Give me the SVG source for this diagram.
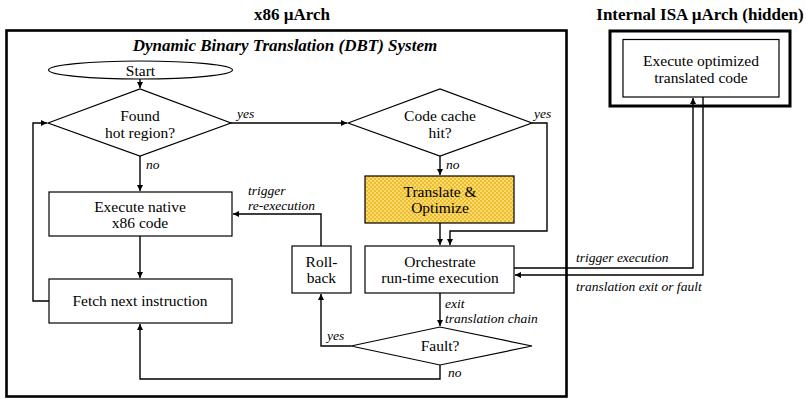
<svg xmlns="http://www.w3.org/2000/svg" width="808" height="399" viewBox="0 0 808 399">
<style>
.t{font-family:"Liberation Serif","Times New Roman",serif;font-size:15.5px;fill:#000;text-anchor:middle}
.l{font-family:"Liberation Serif","Times New Roman",serif;font-size:13.5px;font-style:italic;fill:#000}
.h{font-family:"Liberation Serif","Times New Roman",serif;font-size:17px;font-weight:bold;fill:#000;text-anchor:middle}
.n{fill:#fff;stroke:#000;stroke-width:1.2}
.c{fill:none;stroke:#000;stroke-width:1.4}
</style>
<defs>
<marker id="a" markerWidth="8" markerHeight="8" refX="6" refY="3" orient="auto" markerUnits="userSpaceOnUse"><path d="M0,0 L6,3 L0,6 Z" fill="#000"/></marker>
<pattern id="chk" width="4" height="4" patternUnits="userSpaceOnUse"><rect width="4" height="4" fill="#F7DA70"/><rect width="2" height="2" fill="#EFBC2C"/><rect x="2" y="2" width="2" height="2" fill="#EFBC2C"/></pattern>
</defs>
<text class="h" x="292" y="20">x86 µArch</text>
<text class="h" x="700" y="20">Internal ISA µArch (hidden)</text>
<g id="dbt-system">
<rect x="6.5" y="30.5" width="560" height="366" fill="#fff" stroke="#000" stroke-width="2.6"/>
<text class="h" x="285" y="51" font-style="italic" font-size="15.5">Dynamic Binary Translation (DBT) System</text>
</g>
<g id="internal-isa">
<rect x="610" y="31" width="180" height="75" fill="#fff" stroke="#000" stroke-width="3"/>
</g>
<g id="connectors">
<path class="c" d="M140,79 V88" marker-end="url(#a)"/>
<path class="c" d="M231,123 H347" marker-end="url(#a)"/>
<path class="c" d="M140,156 V191" marker-end="url(#a)"/>
<path class="c" d="M440,156 V175" marker-end="url(#a)"/>
<path class="c" d="M532,123 H547 V231 H450 V245" marker-end="url(#a)"/>
<path class="c" d="M440,223 V245" marker-end="url(#a)"/>
<path class="c" d="M140,236 V278" marker-end="url(#a)"/>
<path class="c" d="M49,301 H33 V123 H47" marker-end="url(#a)"/>
<path class="c" d="M321,246 V214 H233" marker-end="url(#a)"/>
<path class="c" d="M440,293 V326" marker-end="url(#a)"/>
<path class="c" d="M351,346 H321 V294" marker-end="url(#a)"/>
<path class="c" d="M440,365 V379 H140 V324" marker-end="url(#a)"/>
<path class="c" d="M514,268 H693 V98" marker-end="url(#a)"/>
<path class="c" d="M703,97 V275 H515" marker-end="url(#a)"/>
<text class="l" x="237" y="118">yes</text>
<text class="l" x="146" y="169">no</text>
<text class="l" x="534" y="118">yes</text>
<text class="l" x="446" y="169">no</text>
<text class="l" x="248" y="195">trigger</text>
<text class="l" x="248" y="210">re-execution</text>
<text class="l" x="445" y="308">exit</text>
<text class="l" x="445" y="323">translation chain</text>
<text class="l" x="327" y="340">yes</text>
<text class="l" x="448" y="377">no</text>
<text class="l" x="576" y="262">trigger execution</text>
<text class="l" x="576" y="291">translation exit or fault</text>
</g>
<g id="start">
<ellipse class="n" cx="140.5" cy="70" rx="92" ry="9"/>
<text class="t" x="140.5" y="75.5">Start</text>
</g>
<g id="found-hot-region">
<polygon class="n" points="48,123 140,89 231,123 140,156"/>
<text class="t" x="140" y="121">Found</text>
<text class="t" x="140" y="138">hot region?</text>
</g>
<g id="code-cache-hit">
<polygon class="n" points="348,123 440,89 532,123 440,156"/>
<text class="t" x="440" y="121">Code cache</text>
<text class="t" x="440" y="138">hit?</text>
</g>
<g id="translate-optimize">
<rect x="365" y="176" width="149" height="47" fill="url(#chk)" stroke="#000" stroke-width="1.2"/>
<text class="t" x="440" y="197">Translate &amp;</text>
<text class="t" x="440" y="213">Optimize</text>
</g>
<g id="execute-native">
<rect class="n" x="49" y="192" width="183" height="44"/>
<text class="t" x="140" y="212">Execute native</text>
<text class="t" x="140" y="228">x86 code</text>
</g>
<g id="fetch-next">
<rect class="n" x="49" y="279" width="183" height="44"/>
<text class="t" x="140" y="306">Fetch next instruction</text>
</g>
<g id="roll-back">
<rect class="n" x="292" y="246" width="59" height="47"/>
<text class="t" x="321.5" y="267">Roll-</text>
<text class="t" x="321.5" y="283">back</text>
</g>
<g id="orchestrate">
<rect class="n" x="365" y="246" width="149" height="47"/>
<text class="t" x="440" y="267">Orchestrate</text>
<text class="t" x="440" y="283">run-time execution</text>
</g>
<g id="fault">
<polygon class="n" points="351,346 440,327 532,346 440,365"/>
<text class="t" x="440" y="351">Fault?</text>
</g>
<g id="execute-optimized">
<rect class="n" x="623" y="39.5" width="156" height="57.5"/>
<text class="t" x="701" y="66">Execute optimized</text>
<text class="t" x="701" y="83">translated code</text>
</g>
</svg>
